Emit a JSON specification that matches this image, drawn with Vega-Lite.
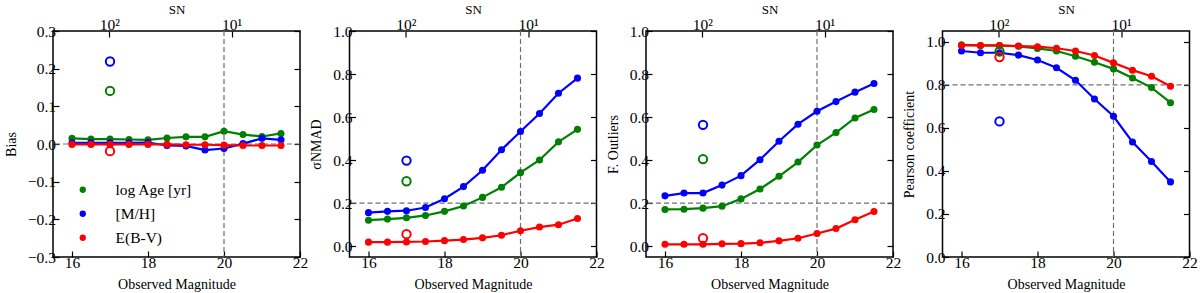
{
  "$schema": "https://vega.github.io/schema/vega-lite/v6.json",
  "background": "white",
  "padding": {"left": 3, "top": 2, "right": 2, "bottom": 0},
  "bounds": "flush",
  "spacing": 49.5,
  "datasets": {
    "curves": [
      {"panel": "bias", "param": "log Age [yr]", "mag": 16, "value": 0.015},
      {"panel": "bias", "param": "log Age [yr]", "mag": 16.5, "value": 0.013},
      {"panel": "bias", "param": "log Age [yr]", "mag": 17, "value": 0.013},
      {"panel": "bias", "param": "log Age [yr]", "mag": 17.5, "value": 0.012},
      {"panel": "bias", "param": "log Age [yr]", "mag": 18, "value": 0.011},
      {"panel": "bias", "param": "log Age [yr]", "mag": 18.5, "value": 0.016},
      {"panel": "bias", "param": "log Age [yr]", "mag": 19, "value": 0.019},
      {"panel": "bias", "param": "log Age [yr]", "mag": 19.5, "value": 0.019},
      {"panel": "bias", "param": "log Age [yr]", "mag": 20, "value": 0.034},
      {"panel": "bias", "param": "log Age [yr]", "mag": 20.5, "value": 0.025},
      {"panel": "bias", "param": "log Age [yr]", "mag": 21, "value": 0.020},
      {"panel": "bias", "param": "log Age [yr]", "mag": 21.5, "value": 0.028},
      {"panel": "bias", "param": "[M/H]", "mag": 16, "value": 0.003},
      {"panel": "bias", "param": "[M/H]", "mag": 16.5, "value": 0.003},
      {"panel": "bias", "param": "[M/H]", "mag": 17, "value": 0.003},
      {"panel": "bias", "param": "[M/H]", "mag": 17.5, "value": 0.003},
      {"panel": "bias", "param": "[M/H]", "mag": 18, "value": 0.004},
      {"panel": "bias", "param": "[M/H]", "mag": 18.5, "value": -0.004},
      {"panel": "bias", "param": "[M/H]", "mag": 19, "value": -0.005},
      {"panel": "bias", "param": "[M/H]", "mag": 19.5, "value": -0.016},
      {"panel": "bias", "param": "[M/H]", "mag": 20, "value": -0.012},
      {"panel": "bias", "param": "[M/H]", "mag": 20.5, "value": 0.001},
      {"panel": "bias", "param": "[M/H]", "mag": 21, "value": 0.015},
      {"panel": "bias", "param": "[M/H]", "mag": 21.5, "value": 0.011},
      {"panel": "bias", "param": "E(B-V)", "mag": 16, "value": -0.001},
      {"panel": "bias", "param": "E(B-V)", "mag": 16.5, "value": -0.001},
      {"panel": "bias", "param": "E(B-V)", "mag": 17, "value": -0.001},
      {"panel": "bias", "param": "E(B-V)", "mag": 17.5, "value": -0.001},
      {"panel": "bias", "param": "E(B-V)", "mag": 18, "value": -0.001},
      {"panel": "bias", "param": "E(B-V)", "mag": 18.5, "value": -0.001},
      {"panel": "bias", "param": "E(B-V)", "mag": 19, "value": -0.002},
      {"panel": "bias", "param": "E(B-V)", "mag": 19.5, "value": -0.002},
      {"panel": "bias", "param": "E(B-V)", "mag": 20, "value": -0.003},
      {"panel": "bias", "param": "E(B-V)", "mag": 20.5, "value": -0.004},
      {"panel": "bias", "param": "E(B-V)", "mag": 21, "value": -0.004},
      {"panel": "bias", "param": "E(B-V)", "mag": 21.5, "value": -0.004},

      {"panel": "sigma", "param": "log Age [yr]", "mag": 16, "value": 0.121},
      {"panel": "sigma", "param": "log Age [yr]", "mag": 16.5, "value": 0.126},
      {"panel": "sigma", "param": "log Age [yr]", "mag": 17, "value": 0.132},
      {"panel": "sigma", "param": "log Age [yr]", "mag": 17.5, "value": 0.143},
      {"panel": "sigma", "param": "log Age [yr]", "mag": 18, "value": 0.162},
      {"panel": "sigma", "param": "log Age [yr]", "mag": 18.5, "value": 0.187},
      {"panel": "sigma", "param": "log Age [yr]", "mag": 19, "value": 0.227},
      {"panel": "sigma", "param": "log Age [yr]", "mag": 19.5, "value": 0.274},
      {"panel": "sigma", "param": "log Age [yr]", "mag": 20, "value": 0.342},
      {"panel": "sigma", "param": "log Age [yr]", "mag": 20.5, "value": 0.401},
      {"panel": "sigma", "param": "log Age [yr]", "mag": 21, "value": 0.485},
      {"panel": "sigma", "param": "log Age [yr]", "mag": 21.5, "value": 0.543},
      {"panel": "sigma", "param": "[M/H]", "mag": 16, "value": 0.156},
      {"panel": "sigma", "param": "[M/H]", "mag": 16.5, "value": 0.162},
      {"panel": "sigma", "param": "[M/H]", "mag": 17, "value": 0.165},
      {"panel": "sigma", "param": "[M/H]", "mag": 17.5, "value": 0.180},
      {"panel": "sigma", "param": "[M/H]", "mag": 18, "value": 0.221},
      {"panel": "sigma", "param": "[M/H]", "mag": 18.5, "value": 0.277},
      {"panel": "sigma", "param": "[M/H]", "mag": 19, "value": 0.353},
      {"panel": "sigma", "param": "[M/H]", "mag": 19.5, "value": 0.448},
      {"panel": "sigma", "param": "[M/H]", "mag": 20, "value": 0.533},
      {"panel": "sigma", "param": "[M/H]", "mag": 20.5, "value": 0.617},
      {"panel": "sigma", "param": "[M/H]", "mag": 21, "value": 0.711},
      {"panel": "sigma", "param": "[M/H]", "mag": 21.5, "value": 0.781},
      {"panel": "sigma", "param": "E(B-V)", "mag": 16, "value": 0.019},
      {"panel": "sigma", "param": "E(B-V)", "mag": 16.5, "value": 0.019},
      {"panel": "sigma", "param": "E(B-V)", "mag": 17, "value": 0.020},
      {"panel": "sigma", "param": "E(B-V)", "mag": 17.5, "value": 0.022},
      {"panel": "sigma", "param": "E(B-V)", "mag": 18, "value": 0.026},
      {"panel": "sigma", "param": "E(B-V)", "mag": 18.5, "value": 0.031},
      {"panel": "sigma", "param": "E(B-V)", "mag": 19, "value": 0.039},
      {"panel": "sigma", "param": "E(B-V)", "mag": 19.5, "value": 0.051},
      {"panel": "sigma", "param": "E(B-V)", "mag": 20, "value": 0.072},
      {"panel": "sigma", "param": "E(B-V)", "mag": 20.5, "value": 0.089},
      {"panel": "sigma", "param": "E(B-V)", "mag": 21, "value": 0.100},
      {"panel": "sigma", "param": "E(B-V)", "mag": 21.5, "value": 0.129},

      {"panel": "outliers", "param": "log Age [yr]", "mag": 16, "value": 0.171},
      {"panel": "outliers", "param": "log Age [yr]", "mag": 16.5, "value": 0.172},
      {"panel": "outliers", "param": "log Age [yr]", "mag": 17, "value": 0.177},
      {"panel": "outliers", "param": "log Age [yr]", "mag": 17.5, "value": 0.186},
      {"panel": "outliers", "param": "log Age [yr]", "mag": 18, "value": 0.220},
      {"panel": "outliers", "param": "log Age [yr]", "mag": 18.5, "value": 0.266},
      {"panel": "outliers", "param": "log Age [yr]", "mag": 19, "value": 0.325},
      {"panel": "outliers", "param": "log Age [yr]", "mag": 19.5, "value": 0.391},
      {"panel": "outliers", "param": "log Age [yr]", "mag": 20, "value": 0.470},
      {"panel": "outliers", "param": "log Age [yr]", "mag": 20.5, "value": 0.528},
      {"panel": "outliers", "param": "log Age [yr]", "mag": 21, "value": 0.596},
      {"panel": "outliers", "param": "log Age [yr]", "mag": 21.5, "value": 0.635},
      {"panel": "outliers", "param": "[M/H]", "mag": 16, "value": 0.234},
      {"panel": "outliers", "param": "[M/H]", "mag": 16.5, "value": 0.247},
      {"panel": "outliers", "param": "[M/H]", "mag": 17, "value": 0.247},
      {"panel": "outliers", "param": "[M/H]", "mag": 17.5, "value": 0.284},
      {"panel": "outliers", "param": "[M/H]", "mag": 18, "value": 0.328},
      {"panel": "outliers", "param": "[M/H]", "mag": 18.5, "value": 0.402},
      {"panel": "outliers", "param": "[M/H]", "mag": 19, "value": 0.488},
      {"panel": "outliers", "param": "[M/H]", "mag": 19.5, "value": 0.567},
      {"panel": "outliers", "param": "[M/H]", "mag": 20, "value": 0.627},
      {"panel": "outliers", "param": "[M/H]", "mag": 20.5, "value": 0.672},
      {"panel": "outliers", "param": "[M/H]", "mag": 21, "value": 0.716},
      {"panel": "outliers", "param": "[M/H]", "mag": 21.5, "value": 0.756},
      {"panel": "outliers", "param": "E(B-V)", "mag": 16, "value": 0.009},
      {"panel": "outliers", "param": "E(B-V)", "mag": 16.5, "value": 0.009},
      {"panel": "outliers", "param": "E(B-V)", "mag": 17, "value": 0.009},
      {"panel": "outliers", "param": "E(B-V)", "mag": 17.5, "value": 0.011},
      {"panel": "outliers", "param": "E(B-V)", "mag": 18, "value": 0.012},
      {"panel": "outliers", "param": "E(B-V)", "mag": 18.5, "value": 0.016},
      {"panel": "outliers", "param": "E(B-V)", "mag": 19, "value": 0.025},
      {"panel": "outliers", "param": "E(B-V)", "mag": 19.5, "value": 0.037},
      {"panel": "outliers", "param": "E(B-V)", "mag": 20, "value": 0.059},
      {"panel": "outliers", "param": "E(B-V)", "mag": 20.5, "value": 0.082},
      {"panel": "outliers", "param": "E(B-V)", "mag": 21, "value": 0.123},
      {"panel": "outliers", "param": "E(B-V)", "mag": 21.5, "value": 0.161},

      {"panel": "pearson", "param": "log Age [yr]", "mag": 16, "value": 0.986},
      {"panel": "pearson", "param": "log Age [yr]", "mag": 16.5, "value": 0.983},
      {"panel": "pearson", "param": "log Age [yr]", "mag": 17, "value": 0.982},
      {"panel": "pearson", "param": "log Age [yr]", "mag": 17.5, "value": 0.979},
      {"panel": "pearson", "param": "log Age [yr]", "mag": 18, "value": 0.969},
      {"panel": "pearson", "param": "log Age [yr]", "mag": 18.5, "value": 0.957},
      {"panel": "pearson", "param": "log Age [yr]", "mag": 19, "value": 0.933},
      {"panel": "pearson", "param": "log Age [yr]", "mag": 19.5, "value": 0.905},
      {"panel": "pearson", "param": "log Age [yr]", "mag": 20, "value": 0.874},
      {"panel": "pearson", "param": "log Age [yr]", "mag": 20.5, "value": 0.832},
      {"panel": "pearson", "param": "log Age [yr]", "mag": 21, "value": 0.787},
      {"panel": "pearson", "param": "log Age [yr]", "mag": 21.5, "value": 0.717},
      {"panel": "pearson", "param": "[M/H]", "mag": 16, "value": 0.957},
      {"panel": "pearson", "param": "[M/H]", "mag": 16.5, "value": 0.949},
      {"panel": "pearson", "param": "[M/H]", "mag": 17, "value": 0.949},
      {"panel": "pearson", "param": "[M/H]", "mag": 17.5, "value": 0.938},
      {"panel": "pearson", "param": "[M/H]", "mag": 18, "value": 0.915},
      {"panel": "pearson", "param": "[M/H]", "mag": 18.5, "value": 0.879},
      {"panel": "pearson", "param": "[M/H]", "mag": 19, "value": 0.821},
      {"panel": "pearson", "param": "[M/H]", "mag": 19.5, "value": 0.734},
      {"panel": "pearson", "param": "[M/H]", "mag": 20, "value": 0.654},
      {"panel": "pearson", "param": "[M/H]", "mag": 20.5, "value": 0.534},
      {"panel": "pearson", "param": "[M/H]", "mag": 21, "value": 0.444},
      {"panel": "pearson", "param": "[M/H]", "mag": 21.5, "value": 0.349},
      {"panel": "pearson", "param": "E(B-V)", "mag": 16, "value": 0.983},
      {"panel": "pearson", "param": "E(B-V)", "mag": 16.5, "value": 0.983},
      {"panel": "pearson", "param": "E(B-V)", "mag": 17, "value": 0.983},
      {"panel": "pearson", "param": "E(B-V)", "mag": 17.5, "value": 0.980},
      {"panel": "pearson", "param": "E(B-V)", "mag": 18, "value": 0.977},
      {"panel": "pearson", "param": "E(B-V)", "mag": 18.5, "value": 0.970},
      {"panel": "pearson", "param": "E(B-V)", "mag": 19, "value": 0.957},
      {"panel": "pearson", "param": "E(B-V)", "mag": 19.5, "value": 0.936},
      {"panel": "pearson", "param": "E(B-V)", "mag": 20, "value": 0.902},
      {"panel": "pearson", "param": "E(B-V)", "mag": 20.5, "value": 0.868},
      {"panel": "pearson", "param": "E(B-V)", "mag": 21, "value": 0.840},
      {"panel": "pearson", "param": "E(B-V)", "mag": 21.5, "value": 0.793}
    ],
    "singles": [
      {"panel": "bias", "param": "log Age [yr]", "mag": 17, "value": 0.141},
      {"panel": "bias", "param": "[M/H]", "mag": 17, "value": 0.219},
      {"panel": "bias", "param": "E(B-V)", "mag": 17, "value": -0.019},
      {"panel": "sigma", "param": "log Age [yr]", "mag": 17, "value": 0.302},
      {"panel": "sigma", "param": "[M/H]", "mag": 17, "value": 0.398},
      {"panel": "sigma", "param": "E(B-V)", "mag": 17, "value": 0.056},
      {"panel": "outliers", "param": "log Age [yr]", "mag": 17, "value": 0.405},
      {"panel": "outliers", "param": "[M/H]", "mag": 17, "value": 0.564},
      {"panel": "outliers", "param": "E(B-V)", "mag": 17, "value": 0.037},
      {"panel": "pearson", "param": "log Age [yr]", "mag": 17, "value": 0.955},
      {"panel": "pearson", "param": "[M/H]", "mag": 17, "value": 0.630},
      {"panel": "pearson", "param": "E(B-V)", "mag": 17, "value": 0.929}
    ],
    "refs": [
      {"panel": "bias", "h": 0, "v": 20},
      {"panel": "sigma", "h": 0.2, "v": 20},
      {"panel": "outliers", "h": 0.2, "v": 20},
      {"panel": "pearson", "h": 0.8, "v": 20}
    ]
  },
  "hconcat": [
    {
      "width": 247, "height": 226,
      "layer": [
        {"data": {"name": "refs"}, "transform": [{"filter": "datum.panel === 'bias'"}],
         "mark": {"type": "rule", "color": "#707070", "strokeDash": [5, 3], "strokeWidth": 1.2},
         "encoding": {"y": {"field": "h", "type": "quantitative", "scale": {"domain": [-0.3, 0.3], "nice": false, "zero": false},
           "axis": {"orient": "left", "values": [-0.3, -0.2, -0.1, 0, 0.1, 0.2, 0.3], "format": ".1f", "title": "Bias", "labelPadding": 3.5, "titlePadding": 9}}}},
        {"data": {"name": "refs"}, "transform": [{"filter": "datum.panel === 'bias'"}],
         "mark": {"type": "rule", "color": "#707070", "strokeDash": [5, 3], "strokeWidth": 1.2},
         "encoding": {"x": {"field": "v", "type": "quantitative", "scale": {"domain": [15.5, 22], "nice": false, "zero": false},
           "axis": {"orient": "bottom", "values": [16, 18, 20, 22], "format": "d", "title": "Observed Magnitude", "labelPadding": 4.5, "titlePadding": 6.5}}}},
        {"data": {"name": "curves"}, "transform": [{"filter": "datum.panel === 'bias'"}],
         "mark": {"type": "line", "strokeWidth": 2.2},
         "encoding": {
           "x": {"field": "mag", "type": "quantitative", "scale": {"domain": [15.5, 22], "nice": false, "zero": false},
             "axis": {"orient": "top", "values": [16.98, 20.2], "labelExpr": "datum.value < 18 ? '10²' : '10¹'", "title": "SN", "titleFontSize": 13, "labelPadding": 5, "titlePadding": 1}},
           "y": {"field": "value", "type": "quantitative", "scale": {"domain": [-0.3, 0.3], "nice": false, "zero": false},
             "axis": {"orient": "right", "values": [-0.3, -0.2, -0.1, 0, 0.1, 0.2, 0.3], "labels": false, "title": null}},
           "color": {"field": "param", "type": "nominal", "sort": null, "scale": {"domain": ["log Age [yr]", "[M/H]", "E(B-V)"], "range": ["#008000", "#0000ff", "#ff0000"]}}
         }},
        {"data": {"name": "curves"}, "transform": [{"filter": "datum.panel === 'bias'"}],
         "mark": {"type": "point", "filled": true, "size": 50, "opacity": 1},
         "encoding": {
           "x": {"field": "mag", "type": "quantitative", "scale": {"domain": [15.5, 22], "nice": false, "zero": false}, "axis": null},
           "y": {"field": "value", "type": "quantitative", "scale": {"domain": [-0.3, 0.3], "nice": false, "zero": false}, "axis": null},
           "color": {"field": "param", "type": "nominal", "sort": null, "scale": {"domain": ["log Age [yr]", "[M/H]", "E(B-V)"], "range": ["#008000", "#0000ff", "#ff0000"]},
             "legend": {"orient": "none", "legendX": 22, "legendY": 151, "title": null, "symbolType": "circle", "symbolSize": 40, "symbolStrokeWidth": 0, "labelFontSize": 15.5, "labelFont": "Liberation Serif", "labelColor": "black", "labelOffset": 25, "rowPadding": 7, "padding": 0}}
         }},
        {"data": {"name": "singles"}, "transform": [{"filter": "datum.panel === 'bias'"}],
         "mark": {"type": "point", "filled": false, "size": 70, "strokeWidth": 2, "opacity": 1},
         "encoding": {
           "x": {"field": "mag", "type": "quantitative", "scale": {"domain": [15.5, 22], "nice": false, "zero": false}, "axis": null},
           "y": {"field": "value", "type": "quantitative", "scale": {"domain": [-0.3, 0.3], "nice": false, "zero": false}, "axis": null},
           "color": {"field": "param", "type": "nominal", "sort": null, "scale": {"domain": ["log Age [yr]", "[M/H]", "E(B-V)"], "range": ["#008000", "#0000ff", "#ff0000"]}}
         }}
      ],
      "resolve": {"axis": {"x": "independent", "y": "independent"}}
    },
    {
      "width": 247, "height": 226,
      "layer": [
        {"data": {"name": "refs"}, "transform": [{"filter": "datum.panel === 'sigma'"}],
         "mark": {"type": "rule", "color": "#707070", "strokeDash": [5, 3], "strokeWidth": 1.2},
         "encoding": {"y": {"field": "h", "type": "quantitative", "scale": {"domain": [-0.05, 1.0], "nice": false, "zero": false},
           "axis": {"orient": "left", "values": [0, 0.2, 0.4, 0.6, 0.8, 1.0], "format": ".1f", "title": "σNMAD", "labelPadding": 3.5, "titlePadding": 9}}}},
        {"data": {"name": "refs"}, "transform": [{"filter": "datum.panel === 'sigma'"}],
         "mark": {"type": "rule", "color": "#707070", "strokeDash": [5, 3], "strokeWidth": 1.2},
         "encoding": {"x": {"field": "v", "type": "quantitative", "scale": {"domain": [15.5, 22], "nice": false, "zero": false},
           "axis": {"orient": "bottom", "values": [16, 18, 20, 22], "format": "d", "title": "Observed Magnitude", "labelPadding": 4.5, "titlePadding": 6.5}}}},
        {"data": {"name": "curves"}, "transform": [{"filter": "datum.panel === 'sigma'"}],
         "mark": {"type": "line", "strokeWidth": 2.2},
         "encoding": {
           "x": {"field": "mag", "type": "quantitative", "scale": {"domain": [15.5, 22], "nice": false, "zero": false},
             "axis": {"orient": "top", "values": [16.98, 20.2], "labelExpr": "datum.value < 18 ? '10²' : '10¹'", "title": "SN", "titleFontSize": 13, "labelPadding": 5, "titlePadding": 1}},
           "y": {"field": "value", "type": "quantitative", "scale": {"domain": [-0.05, 1.0], "nice": false, "zero": false},
             "axis": {"orient": "right", "values": [0, 0.2, 0.4, 0.6, 0.8, 1.0], "labels": false, "title": null}},
           "color": {"field": "param", "type": "nominal", "sort": null, "scale": {"domain": ["log Age [yr]", "[M/H]", "E(B-V)"], "range": ["#008000", "#0000ff", "#ff0000"]}, "legend": null}
         }},
        {"data": {"name": "curves"}, "transform": [{"filter": "datum.panel === 'sigma'"}],
         "mark": {"type": "point", "filled": true, "size": 50, "opacity": 1},
         "encoding": {
           "x": {"field": "mag", "type": "quantitative", "scale": {"domain": [15.5, 22], "nice": false, "zero": false}, "axis": null},
           "y": {"field": "value", "type": "quantitative", "scale": {"domain": [-0.05, 1.0], "nice": false, "zero": false}, "axis": null},
           "color": {"field": "param", "type": "nominal", "sort": null, "scale": {"domain": ["log Age [yr]", "[M/H]", "E(B-V)"], "range": ["#008000", "#0000ff", "#ff0000"]}, "legend": null}
         }},
        {"data": {"name": "singles"}, "transform": [{"filter": "datum.panel === 'sigma'"}],
         "mark": {"type": "point", "filled": false, "size": 70, "strokeWidth": 2, "opacity": 1},
         "encoding": {
           "x": {"field": "mag", "type": "quantitative", "scale": {"domain": [15.5, 22], "nice": false, "zero": false}, "axis": null},
           "y": {"field": "value", "type": "quantitative", "scale": {"domain": [-0.05, 1.0], "nice": false, "zero": false}, "axis": null},
           "color": {"field": "param", "type": "nominal", "sort": null, "scale": {"domain": ["log Age [yr]", "[M/H]", "E(B-V)"], "range": ["#008000", "#0000ff", "#ff0000"]}, "legend": null}
         }}
      ],
      "resolve": {"axis": {"x": "independent", "y": "independent"}}
    },
    {
      "width": 247, "height": 226,
      "layer": [
        {"data": {"name": "refs"}, "transform": [{"filter": "datum.panel === 'outliers'"}],
         "mark": {"type": "rule", "color": "#707070", "strokeDash": [5, 3], "strokeWidth": 1.2},
         "encoding": {"y": {"field": "h", "type": "quantitative", "scale": {"domain": [-0.05, 1.0], "nice": false, "zero": false},
           "axis": {"orient": "left", "values": [0, 0.2, 0.4, 0.6, 0.8, 1.0], "format": ".1f", "title": "F. Outliers", "labelPadding": 3.5, "titlePadding": 9}}}},
        {"data": {"name": "refs"}, "transform": [{"filter": "datum.panel === 'outliers'"}],
         "mark": {"type": "rule", "color": "#707070", "strokeDash": [5, 3], "strokeWidth": 1.2},
         "encoding": {"x": {"field": "v", "type": "quantitative", "scale": {"domain": [15.5, 22], "nice": false, "zero": false},
           "axis": {"orient": "bottom", "values": [16, 18, 20, 22], "format": "d", "title": "Observed Magnitude", "labelPadding": 4.5, "titlePadding": 6.5}}}},
        {"data": {"name": "curves"}, "transform": [{"filter": "datum.panel === 'outliers'"}],
         "mark": {"type": "line", "strokeWidth": 2.2},
         "encoding": {
           "x": {"field": "mag", "type": "quantitative", "scale": {"domain": [15.5, 22], "nice": false, "zero": false},
             "axis": {"orient": "top", "values": [16.98, 20.2], "labelExpr": "datum.value < 18 ? '10²' : '10¹'", "title": "SN", "titleFontSize": 13, "labelPadding": 5, "titlePadding": 1}},
           "y": {"field": "value", "type": "quantitative", "scale": {"domain": [-0.05, 1.0], "nice": false, "zero": false},
             "axis": {"orient": "right", "values": [0, 0.2, 0.4, 0.6, 0.8, 1.0], "labels": false, "title": null}},
           "color": {"field": "param", "type": "nominal", "sort": null, "scale": {"domain": ["log Age [yr]", "[M/H]", "E(B-V)"], "range": ["#008000", "#0000ff", "#ff0000"]}, "legend": null}
         }},
        {"data": {"name": "curves"}, "transform": [{"filter": "datum.panel === 'outliers'"}],
         "mark": {"type": "point", "filled": true, "size": 50, "opacity": 1},
         "encoding": {
           "x": {"field": "mag", "type": "quantitative", "scale": {"domain": [15.5, 22], "nice": false, "zero": false}, "axis": null},
           "y": {"field": "value", "type": "quantitative", "scale": {"domain": [-0.05, 1.0], "nice": false, "zero": false}, "axis": null},
           "color": {"field": "param", "type": "nominal", "sort": null, "scale": {"domain": ["log Age [yr]", "[M/H]", "E(B-V)"], "range": ["#008000", "#0000ff", "#ff0000"]}, "legend": null}
         }},
        {"data": {"name": "singles"}, "transform": [{"filter": "datum.panel === 'outliers'"}],
         "mark": {"type": "point", "filled": false, "size": 70, "strokeWidth": 2, "opacity": 1},
         "encoding": {
           "x": {"field": "mag", "type": "quantitative", "scale": {"domain": [15.5, 22], "nice": false, "zero": false}, "axis": null},
           "y": {"field": "value", "type": "quantitative", "scale": {"domain": [-0.05, 1.0], "nice": false, "zero": false}, "axis": null},
           "color": {"field": "param", "type": "nominal", "sort": null, "scale": {"domain": ["log Age [yr]", "[M/H]", "E(B-V)"], "range": ["#008000", "#0000ff", "#ff0000"]}, "legend": null}
         }}
      ],
      "resolve": {"axis": {"x": "independent", "y": "independent"}}
    },
    {
      "width": 247, "height": 226,
      "layer": [
        {"data": {"name": "refs"}, "transform": [{"filter": "datum.panel === 'pearson'"}],
         "mark": {"type": "rule", "color": "#707070", "strokeDash": [5, 3], "strokeWidth": 1.2},
         "encoding": {"y": {"field": "h", "type": "quantitative", "scale": {"domain": [0, 1.05], "nice": false, "zero": false},
           "axis": {"orient": "left", "values": [0, 0.2, 0.4, 0.6, 0.8, 1.0], "format": ".1f", "title": "Pearson coefficient", "labelPadding": 3.5, "titlePadding": 9}}}},
        {"data": {"name": "refs"}, "transform": [{"filter": "datum.panel === 'pearson'"}],
         "mark": {"type": "rule", "color": "#707070", "strokeDash": [5, 3], "strokeWidth": 1.2},
         "encoding": {"x": {"field": "v", "type": "quantitative", "scale": {"domain": [15.5, 22], "nice": false, "zero": false},
           "axis": {"orient": "bottom", "values": [16, 18, 20, 22], "format": "d", "title": "Observed Magnitude", "labelPadding": 4.5, "titlePadding": 6.5}}}},
        {"data": {"name": "curves"}, "transform": [{"filter": "datum.panel === 'pearson'"}],
         "mark": {"type": "line", "strokeWidth": 2.2},
         "encoding": {
           "x": {"field": "mag", "type": "quantitative", "scale": {"domain": [15.5, 22], "nice": false, "zero": false},
             "axis": {"orient": "top", "values": [16.98, 20.2], "labelExpr": "datum.value < 18 ? '10²' : '10¹'", "title": "SN", "titleFontSize": 13, "labelPadding": 5, "titlePadding": 1}},
           "y": {"field": "value", "type": "quantitative", "scale": {"domain": [0, 1.05], "nice": false, "zero": false},
             "axis": {"orient": "right", "values": [0, 0.2, 0.4, 0.6, 0.8, 1.0], "labels": false, "title": null}},
           "color": {"field": "param", "type": "nominal", "sort": null, "scale": {"domain": ["log Age [yr]", "[M/H]", "E(B-V)"], "range": ["#008000", "#0000ff", "#ff0000"]}, "legend": null}
         }},
        {"data": {"name": "curves"}, "transform": [{"filter": "datum.panel === 'pearson'"}],
         "mark": {"type": "point", "filled": true, "size": 50, "opacity": 1},
         "encoding": {
           "x": {"field": "mag", "type": "quantitative", "scale": {"domain": [15.5, 22], "nice": false, "zero": false}, "axis": null},
           "y": {"field": "value", "type": "quantitative", "scale": {"domain": [0, 1.05], "nice": false, "zero": false}, "axis": null},
           "color": {"field": "param", "type": "nominal", "sort": null, "scale": {"domain": ["log Age [yr]", "[M/H]", "E(B-V)"], "range": ["#008000", "#0000ff", "#ff0000"]}, "legend": null}
         }},
        {"data": {"name": "singles"}, "transform": [{"filter": "datum.panel === 'pearson'"}],
         "mark": {"type": "point", "filled": false, "size": 70, "strokeWidth": 2, "opacity": 1},
         "encoding": {
           "x": {"field": "mag", "type": "quantitative", "scale": {"domain": [15.5, 22], "nice": false, "zero": false}, "axis": null},
           "y": {"field": "value", "type": "quantitative", "scale": {"domain": [0, 1.05], "nice": false, "zero": false}, "axis": null},
           "color": {"field": "param", "type": "nominal", "sort": null, "scale": {"domain": ["log Age [yr]", "[M/H]", "E(B-V)"], "range": ["#008000", "#0000ff", "#ff0000"]}, "legend": null}
         }}
      ],
      "resolve": {"axis": {"x": "independent", "y": "independent"}}
    }
  ],
  "resolve": {"scale": {"color": "independent"}, "legend": {"color": "independent"}},
  "config": {
    "font": "Liberation Serif",
    "view": {"stroke": "black", "strokeWidth": 1.5},
    "legend": {"labelFont": "Liberation Serif"},
    "axis": {
      "domain": false, "grid": false, "tickSize": -6, "tickWidth": 1.2, "tickColor": "black",
      "labelFont": "Liberation Serif", "labelFontSize": 15.5, "labelColor": "black",
      "titleFont": "Liberation Serif", "titleFontSize": 14, "titleFontWeight": "normal", "titleColor": "black",
      "labelFlush": false, "labelOverlap": false
    }
  }
}
